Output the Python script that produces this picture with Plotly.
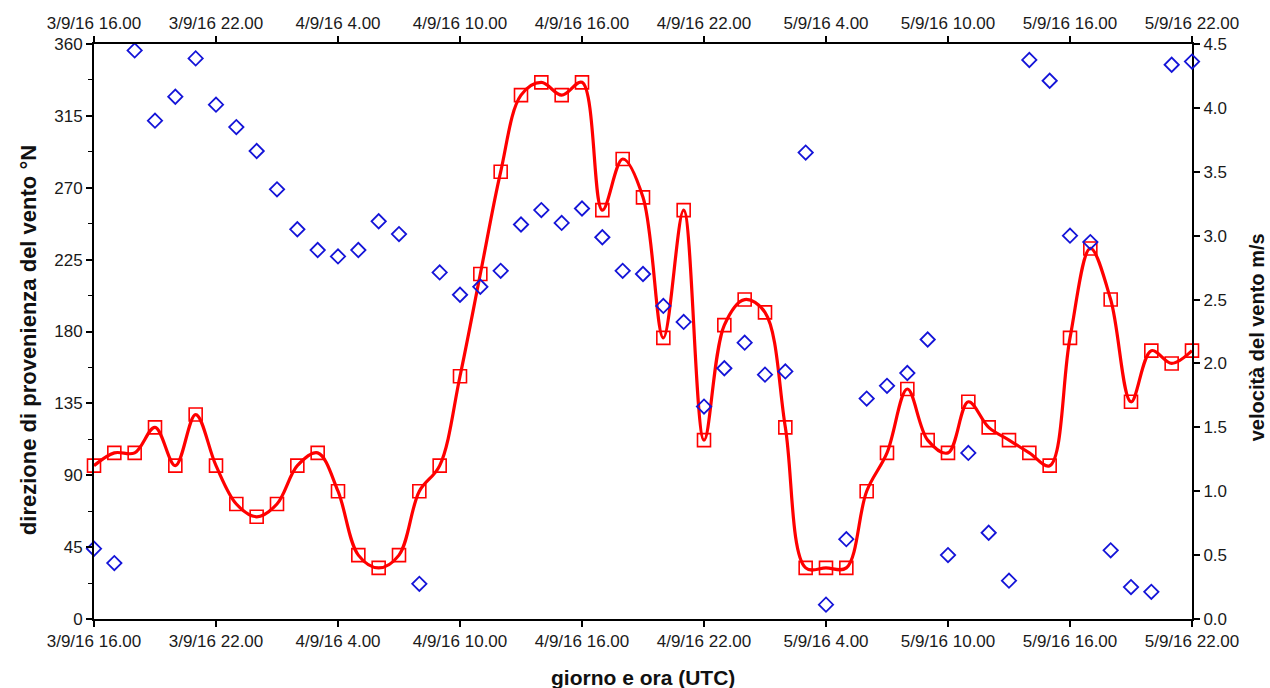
import pandas as pd
import plotly.graph_objects as go

# hourly timestamps 3/9/16 16:00 -> 5/9/16 22:00
times = pd.date_range("2016-09-03 16:00", "2016-09-05 22:00", freq="h")

# wind direction (deg from N), left axis
direction = [44, 35, 356, 312, 327, 351, 322, 308, 293, 269,
             244, 231, 227, 231, 249, 241, 22, 217, 203, 208,
             218, 247, 256, 248, 257, 239, 218, 216, 196, 186,
             133, 157, 173, 153, 155, 292, 9, 50, 138, 146,
             154, 175, 40, 104, 54, 24, 350, 337, 240, 236,
             43, 20, 17, 347, 349]

# wind speed (m/s), right axis
speed = [1.2, 1.3, 1.3, 1.5, 1.2, 1.6, 1.2, 0.9, 0.8, 0.9,
         1.2, 1.3, 1.0, 0.5, 0.4, 0.5, 1.0, 1.2, 1.9, 2.7,
         3.5, 4.1, 4.2, 4.1, 4.2, 3.2, 3.6, 3.3, 2.2, 3.2,
         1.4, 2.3, 2.5, 2.4, 1.5, 0.4, 0.4, 0.4, 1.0, 1.3,
         1.8, 1.4, 1.3, 1.7, 1.5, 1.4, 1.3, 1.2, 2.2, 2.9,
         2.5, 1.7, 2.1, 2.0, 2.1]

tick_vals = ["2016-09-03 16:00", "2016-09-03 22:00", "2016-09-04 04:00",
             "2016-09-04 10:00", "2016-09-04 16:00", "2016-09-04 22:00",
             "2016-09-05 04:00", "2016-09-05 10:00", "2016-09-05 16:00",
             "2016-09-05 22:00"]
tick_text = ["3/9/16 16.00", "3/9/16 22.00", "4/9/16 4.00", "4/9/16 10.00",
             "4/9/16 16.00", "4/9/16 22.00", "5/9/16 4.00", "5/9/16 10.00",
             "5/9/16 16.00", "5/9/16 22.00"]

FONT = "Liberation Sans, Arial, sans-serif"
TICKFONT = dict(family=FONT, size=17, color="#1a1a1a")
xr = [times[0], times[-1]]

fig = go.Figure()
fig.add_trace(go.Scatter(
    x=times, y=direction, mode="markers", yaxis="y", xaxis="x2",
    marker=dict(symbol="diamond-open", size=11, color="#1414d8",
                line=dict(width=1.8, color="#1414d8")),
    cliponaxis=False, showlegend=False))
fig.add_trace(go.Scatter(
    x=times, y=speed, mode="lines+markers", yaxis="y2", xaxis="x",
    line=dict(color="#ff0000", width=3.2, shape="spline", smoothing=1.0),
    marker=dict(symbol="square-open", size=13, color="#ff0000",
                line=dict(width=1.6, color="#ff1a1a")),
    cliponaxis=False, showlegend=False))

axis_common = dict(showline=True, linecolor="black", linewidth=2,
                   ticks="outside", ticklen=6, tickwidth=1.5, tickcolor="black",
                   showgrid=False, zeroline=False, tickfont=TICKFONT)

fig.update_layout(
    width=1270, height=688,
    margin=dict(l=94, r=78, t=44, b=69),
    plot_bgcolor="rgba(0,0,0,0)", paper_bgcolor="white",
    font=dict(family=FONT),
    xaxis=dict(type="date", range=xr, tickvals=tick_vals, ticktext=tick_text,
               **axis_common),
    xaxis2=dict(type="date", range=xr, tickvals=tick_vals, ticktext=tick_text,
                overlaying="x", side="top", anchor="y", **axis_common),
    yaxis=dict(range=[0, 360], tickvals=[0, 45, 90, 135, 180, 225, 270, 315, 360],
               minor=dict(tickvals=[22.5, 67.5, 112.5, 157.5, 202.5, 247.5, 292.5, 337.5],
                          ticks="outside", ticklen=4, tickcolor="black", tickwidth=1),
               anchor="x", **axis_common),
    yaxis2=dict(range=[0, 4.5], tickvals=[0, 0.5, 1, 1.5, 2, 2.5, 3, 3.5, 4, 4.5],
                tickformat=".1f", overlaying="y", side="right", anchor="x",
                **axis_common),
    annotations=[
        dict(text="<b>giorno e ora (UTC)</b>", xref="paper", yref="paper",
             x=0.5, y=-0.1026, xanchor="center", yanchor="middle", showarrow=False,
             font=dict(family=FONT, size=21, color="#111111")),
        dict(text="<b>direzione di provenienza del vento °N</b>", xref="paper", yref="paper",
             x=-0.0601, y=0.485, xanchor="center", yanchor="middle", textangle=-90,
             showarrow=False, font=dict(family=FONT, size=22, color="#111111")),
        dict(text="<b>velocità del vento m/s</b>", xref="paper", yref="paper",
             x=1.0592, y=0.49, xanchor="center", yanchor="middle", textangle=-90,
             showarrow=False, font=dict(family=FONT, size=20, color="#111111")),
    ],
)

fig.write_html("out.html", config={"displayModeBar": False},
               post_script="document.body.style.margin='0';document.body.style.overflow='hidden';")
